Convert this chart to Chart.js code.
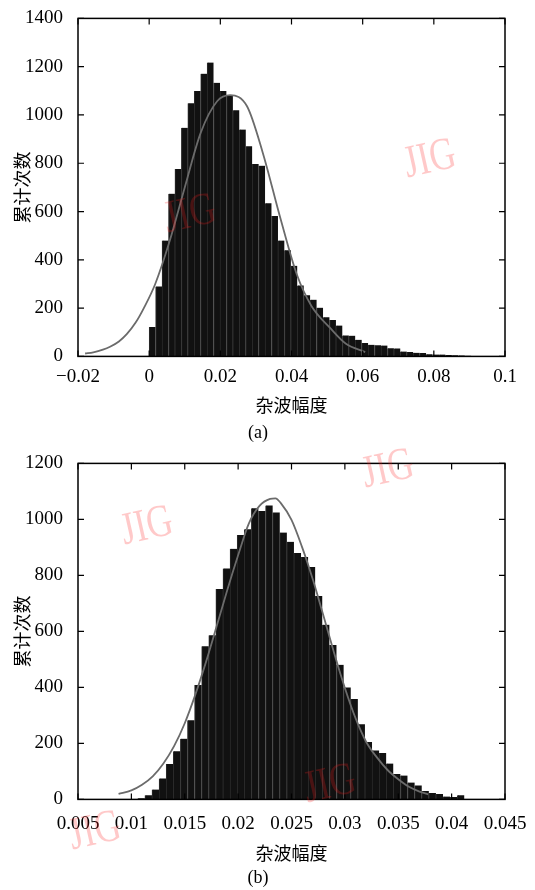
<!DOCTYPE html>
<html>
<head>
<meta charset="utf-8">
<script src="https://cdn.jsdelivr.net/npm/chart.js@4"></script>
<style>
  body { margin: 0; background: #fff; }
  .panel { position: absolute; left: 0; width: 535px; height: 445px; }
</style>
</head>
<body>
<div class="panel" style="top:0"><canvas id="chartA"></canvas></div>
<div class="panel" style="top:445px"><canvas id="chartB"></canvas></div>
<script>
// (a) histogram: 50 bins from 0, counts
const binStartA = 0;
const binWidthA = 0.00181;
const countsA = [122, 290, 480, 674, 776, 947, 1049, 1099, 1171, 1217,
  1133, 1099, 1080, 1020, 940, 870, 797, 790, 634, 582,
  480, 440, 375, 294, 253, 235, 202, 162, 151, 128,
  87, 86, 69, 56, 48, 46, 45, 34, 33, 20,
  18, 15, 14, 9, 8, 8, 6, 5, 4, 3];
// (a) fitted curve
const curveAx = [-0.018, -0.0157, -0.013, -0.011, -0.0085, -0.0063, -0.0038, -0.0015, 0.0017, 0.0058,
  0.010, 0.0145, 0.0191, 0.0228, 0.0275, 0.0319, 0.0369, 0.0415, 0.0456, 0.0507, 0.0553, 0.0607];
const curveAy = [12, 17, 28, 40, 62, 92, 140, 200, 300, 480,
  700, 927, 1057, 1082, 1036, 845, 571, 339, 209, 120, 52, 18];
const xTicksA = [-0.02, 0, 0.02, 0.04, 0.06, 0.08, 0.1];
const xLabelsA = ['\u22120.02', '0', '0.02', '0.04', '0.06', '0.08', '0.1'];
const yTicksA = [0, 200, 400, 600, 800, 1000, 1200, 1400];

// (b) histogram: 46 bins
const binStartB = 0.0106;
const binWidthB = 0.000665;
const countsB = [4, 15, 35, 75, 126, 172, 217, 283, 409, 547,
  586, 751, 825, 895, 944, 965, 1040, 1030, 1050, 1025,
  953, 920, 880, 866, 830, 726, 624, 551, 481, 400,
  359, 268, 205, 175, 166, 128, 91, 85, 60, 50,
  30, 23, 19, 10, 9, 15];
// (b) fitted curve
const curveBx = [0.0088, 0.010, 0.011, 0.012, 0.013, 0.014, 0.015, 0.016, 0.017, 0.018,
  0.019, 0.020, 0.021, 0.022, 0.023, 0.0235, 0.024, 0.025, 0.026, 0.027,
  0.028, 0.029, 0.030, 0.031, 0.032, 0.033, 0.034, 0.035, 0.036, 0.037, 0.0378];
const curveBy = [20, 32, 52, 82, 128, 190, 272, 375, 492, 620,
  750, 872, 985, 1048, 1073, 1075, 1058, 998, 900, 785,
  655, 522, 398, 290, 205, 150, 105, 72, 45, 28, 18];
const xTicksB = [0.005, 0.01, 0.015, 0.02, 0.025, 0.03, 0.035, 0.04, 0.045];
const xLabelsB = ['0.005', '0.01', '0.015', '0.02', '0.025', '0.03', '0.035', '0.04', '0.045'];
const yTicksB = [0, 200, 400, 600, 800, 1000, 1200];

const numFont = { family: '"Liberation Serif", "Times New Roman", serif', size: 19 };
const cjkFont = { family: '"Noto Sans CJK SC", sans-serif', size: 18 };

// box round the plot + MATLAB style inward ticks on all four sides
const frameTicks = {
  id: 'frameTicks',
  afterDatasetsDraw(chart) {
    const { ctx, chartArea: a, scales: { x, y } } = chart;
    ctx.save();
    ctx.strokeStyle = '#000';
    ctx.lineWidth = 1.5;
    ctx.strokeRect(a.left, a.top, a.right - a.left, a.bottom - a.top);
    ctx.lineWidth = 1.2;
    ctx.beginPath();
    x.ticks.forEach(t => {
      const px = x.getPixelForValue(t.value);
      ctx.moveTo(px, a.bottom); ctx.lineTo(px, a.bottom - 6);
      ctx.moveTo(px, a.top); ctx.lineTo(px, a.top + 6);
    });
    y.ticks.forEach(t => {
      const py = y.getPixelForValue(t.value);
      ctx.moveTo(a.left, py); ctx.lineTo(a.left + 6, py);
      ctx.moveTo(a.right, py); ctx.lineTo(a.right - 6, py);
    });
    ctx.stroke();
    ctx.restore();
  }
};

// "JIG" watermark stamps of the source picture
const watermark = {
  id: 'watermark',
  afterDraw(chart, args, opts) {
    const ctx = chart.ctx;
    ctx.save();
    ctx.font = '46px "Liberation Serif", serif';
    ctx.fillStyle = 'rgba(255,30,30,0.24)';
    ctx.textAlign = 'center';
    ctx.textBaseline = 'middle';
    (opts.marks || []).forEach(m => {
      ctx.save();
      ctx.translate(m[0], m[1]);
      ctx.rotate(-0.22);
      ctx.scale(0.78, 1);
      ctx.fillText('JIG', 0, 0);
      ctx.restore();
    });
    ctx.restore();
  }
};

function makeChart(id, cfg) {
  const bars = cfg.counts.map((c, i) => ({ x: cfg.binStart + (i + 0.5) * cfg.binWidth, y: c }));
  const curve = cfg.curveX.map((v, i) => ({ x: v, y: cfg.curveY[i] }));
  return new Chart(document.getElementById(id), {
    type: 'bar',
    data: {
      datasets: [
        {
          type: 'line',
          data: curve,
          borderColor: '#6b6b6b',
          borderWidth: 1.8,
          pointRadius: 0,
          fill: false,
          cubicInterpolationMode: 'monotone',
          order: 1
        },
        {
          type: 'bar',
          data: bars,
          backgroundColor: '#111111',
          borderColor: '#2c2c2c',
          borderWidth: { left: 1, top: 0, right: 0, bottom: 0 },
          barPercentage: 1,
          categoryPercentage: 1,
          order: 2
        }
      ]
    },
    options: {
      responsive: true,
      maintainAspectRatio: false,
      animation: false,
      layout: { padding: cfg.padding },
      scales: {
        x: {
          type: 'linear',
          min: cfg.xTicks[0],
          max: cfg.xTicks[cfg.xTicks.length - 1],
          offset: false,
          afterBuildTicks: axis => { axis.ticks = cfg.xTicks.map(v => ({ value: v })); },
          afterFit: axis => { axis.height = cfg.xHeight; },
          grid: { display: false, offset: false },
          border: { display: false },
          ticks: {
            font: numFont, color: '#000', padding: cfg.xPad,
            autoSkip: false, maxRotation: 0,
            callback: (v, i) => cfg.xLabels[i]
          },
          title: { display: true, text: '杂波幅度', font: cjkFont, color: '#000', padding: 0 }
        },
        y: {
          min: 0,
          max: cfg.yTicks[cfg.yTicks.length - 1],
          afterBuildTicks: axis => { axis.ticks = cfg.yTicks.map(v => ({ value: v })); },
          afterFit: axis => { axis.width = 67; },
          grid: { display: false },
          border: { display: false },
          ticks: { font: numFont, color: '#000', padding: 7, callback: v => String(v) },
          title: { display: true, text: '累计次数', font: cjkFont, color: '#000', padding: 0 }
        }
      },
      plugins: {
        legend: { display: false },
        tooltip: { enabled: false },
        title: {
          display: true, text: cfg.caption, position: 'bottom',
          font: { family: '"Liberation Serif", serif', size: 18, weight: 'normal' },
          color: '#000', padding: { top: cfg.capPad, bottom: 0 }
        },
        watermark: { marks: cfg.marks }
      }
    },
    plugins: [frameTicks, watermark]
  });
}

makeChart('chartA', {
  binStart: binStartA, binWidth: binWidthA, counts: countsA,
  curveX: curveAx, curveY: curveAy,
  xTicks: xTicksA, xLabels: xLabelsA, yTicks: yTicksA,
  padding: { left: 11, right: 30, top: 14, bottom: 1 },
  xHeight: 60, xPad: 1, capPad: 6, caption: '(a)',
  marks: [[430, 160], [190, 215]]
});

makeChart('chartB', {
  binStart: binStartB, binWidth: binWidthB, counts: countsB,
  curveX: curveBx, curveY: curveBy,
  xTicks: xTicksB, xLabels: xLabelsB, yTicks: yTicksB,
  padding: { left: 11, right: 30, top: 11, bottom: 1 },
  xHeight: 65, xPad: 5, capPad: 3, caption: '(b)',
  marks: [[147, 82], [388, 25], [330, 340], [95, 387]]
});
</script>
</body>
</html>
